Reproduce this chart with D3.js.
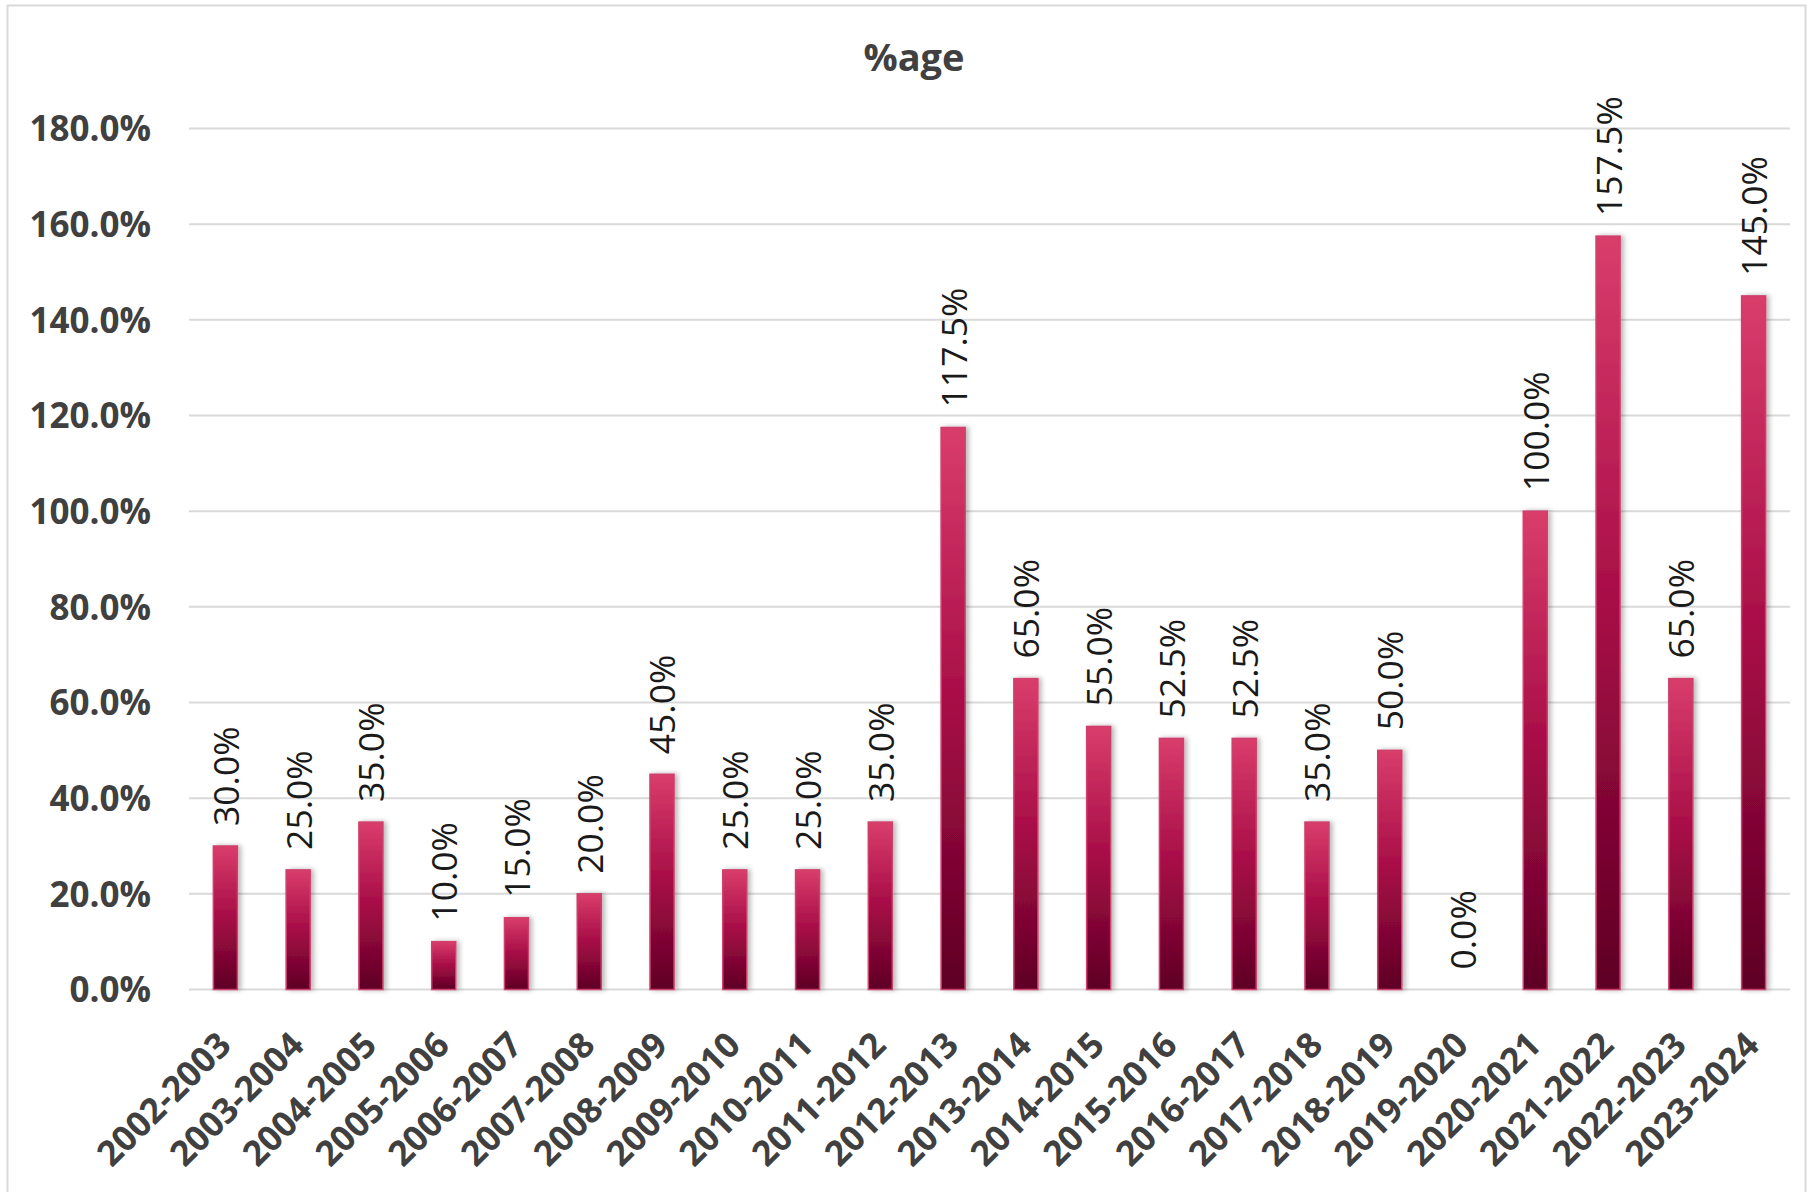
<!DOCTYPE html>
<html>
<head>
<meta charset="utf-8">
<script src="https://cdn.jsdelivr.net/npm/d3@7"></script>
<style>
  html, body { margin: 0; padding: 0; background: #fff; }
  svg { display: block; }
</style>
</head>
<body>
<svg id="chart" width="1810" height="1192"></svg>
<script>
const categories = ["2002-2003","2003-2004","2004-2005","2005-2006","2006-2007","2007-2008","2008-2009","2009-2010","2010-2011","2011-2012","2012-2013","2013-2014","2014-2015","2015-2016","2016-2017","2017-2018","2018-2019","2019-2020","2020-2021","2021-2022","2022-2023","2023-2024"];
const values = [30, 25, 35, 10, 15, 20, 45, 25, 25, 35, 117.5, 65, 55, 52.5, 52.5, 35, 50, 0, 100, 157.5, 65, 145];
const yTicks = [0, 20, 40, 60, 80, 100, 120, 140, 160, 180];
const title = "%age";

const svg = d3.select("#chart");
const x0 = 189, x1 = 1790, yTop = 128.5, yBase = 989.5;

const font = "'Open Sans', 'DejaVu Sans', sans-serif";

// outer border
svg.append("rect")
  .attr("x", 7.5).attr("y", 5.5)
  .attr("width", 1798).attr("height", 1200)
  .attr("fill", "#fff").attr("stroke", "#d9d9d9").attr("stroke-width", 2);

const defs = svg.append("defs");
const grad = defs.append("linearGradient")
  .attr("id", "barGrad").attr("x1", 0).attr("y1", 0).attr("x2", 0).attr("y2", 1);
grad.append("stop").attr("offset", "0%").attr("stop-color", "#d93d6c");
grad.append("stop").attr("offset", "50%").attr("stop-color", "#a60c45");
grad.append("stop").attr("offset", "100%").attr("stop-color", "#5e0024");

const filt = defs.append("filter").attr("id", "shadow")
  .attr("x", "-50%").attr("y", "-10%").attr("width", "200%").attr("height", "120%");
filt.append("feDropShadow").attr("dx", 3).attr("dy", 0).attr("stdDeviation", 2.5)
  .attr("flood-color", "#000").attr("flood-opacity", 0.28);

const x = d3.scaleBand().domain(categories).range([x0, x1]).paddingInner(0.67).paddingOuter(0.335);
const y = d3.scaleLinear().domain([0, 180]).range([yBase, yTop]);

// gridlines
svg.append("g")
  .selectAll("line").data(yTicks).join("line")
  .attr("x1", x0).attr("x2", x1)
  .attr("y1", d => y(d)).attr("y2", d => y(d))
  .attr("stroke", "#d9d9d9").attr("stroke-width", 2);

// y axis labels
const yAxis = d3.axisLeft(y).tickValues(yTicks).tickSize(0).tickPadding(0)
  .tickFormat(d => d3.format(".1f")(d) + "%");
const yg = svg.append("g").attr("transform", `translate(151,0)`).call(yAxis);
yg.select(".domain").remove();
yg.selectAll("text")
  .attr("font-family", font).attr("font-weight", "bold")
  .attr("font-size", 35).attr("fill", "#404040").attr("dy", "0.35em");

// bars
svg.append("g").selectAll("rect").data(values).join("rect")
  .attr("x", (d, i) => x(categories[i]))
  .attr("y", d => y(d))
  .attr("width", x.bandwidth())
  .attr("height", d => yBase - y(d))
  .attr("fill", "url(#barGrad)")
  .attr("stroke", d => d > 0 ? "#cf3f6d" : "none")
  .attr("stroke-width", 1.5)
  .attr("filter", "url(#shadow)");

// data labels
svg.append("g").selectAll("text").data(values).join("text")
  .attr("transform", (d, i) => `translate(${x(categories[i]) + x.bandwidth() / 2 + 1},${y(d) - 20}) rotate(-90)`)
  .attr("dy", "0.35em")
  .attr("text-anchor", "start")
  .attr("font-family", font).attr("font-size", 35.5).attr("fill", "#1a1a1a")
  .text(d => d3.format(".1f")(d) + "%");

// x axis labels
const xAxis = d3.axisBottom(x).tickSize(0).tickPadding(0);
const xg = svg.append("g").attr("transform", `translate(0,${yBase})`).call(xAxis);
xg.select(".domain").remove();
xg.selectAll(".tick text")
  .attr("font-family", font).attr("font-weight", "bold")
  .attr("font-size", 35).attr("fill", "#404040")
  .attr("text-anchor", "end")
  .attr("y", 0).attr("dy", "0.35em")
  .attr("transform", "translate(-1,49) rotate(-45)");

// title
svg.append("text")
  .attr("x", 914).attr("y", 58).attr("dy", "0.35em")
  .attr("text-anchor", "middle")
  .attr("font-family", font).attr("font-weight", "bold")
  .attr("font-size", 38).attr("fill", "#404040")
  .text(title);
</script>
</body>
</html>
